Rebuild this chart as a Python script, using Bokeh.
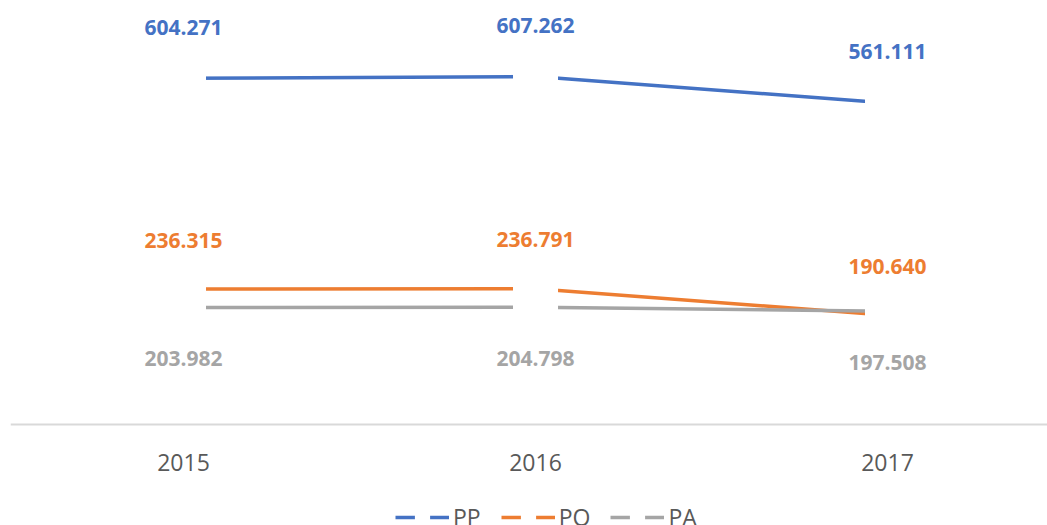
from bokeh.plotting import figure
from bokeh.models import Range1d, FixedTicker, Legend, LegendItem, ColumnDataSource
from bokeh.core.properties import value
from bokeh.embed import file_html
from bokeh.resources import INLINE

years = [2015, 2016, 2017]
year_labels = ["2015", "2016", "2017"]
series_names = ["PP", "PO", "PA"]
pp = [604.271, 607.262, 561.111]
po = [236.315, 236.791, 190.640]
pa = [203.982, 204.798, 197.508]
colors = ["#4472C4", "#ED7D31", "#A5A5A5"]
label_offsets = [-51, -49, 51]

p = figure(width=1047, height=525, output_backend="svg", toolbar_location=None,
           x_range=Range1d(2014.5085, 2017.4545), y_range=Range1d(-176.3, 740.0),
           min_border_left=10, min_border_right=0, min_border_top=0, min_border_bottom=0,
           y_axis_location=None, outline_line_color=None)
p.grid.visible = False

ax = p.xaxis[0]
ax.fixed_location = 0
ax.ticker = FixedTicker(ticks=years)
ax.major_label_overrides = {y: s for y, s in zip(years, year_labels)}
ax.major_tick_line_color = None
ax.minor_tick_line_color = None
ax.axis_line_color = "#D9D9D9"
ax.axis_line_width = 2
ax.major_label_standoff = 24
ax.major_label_text_font = "Open Sans"
ax.major_label_text_font_size = "23px"
ax.major_label_text_color = "#595959"

sources = []
lines = []
for vals, c in zip([pp, po, pa], colors):
    src = ColumnDataSource(dict(x=years, y=vals, lab=[f"{v:.3f}" for v in vals]))
    sources.append(src)
    lines.append(p.line("x", "y", source=src, line_color=c, line_width=3.5))

squares = []
for src in sources:
    squares.append(p.scatter("x", "y", source=src, marker="square", size=45,
                             fill_color="white", line_color=None))

for src, c, off in zip(sources, colors, label_offsets):
    p.text("x", "y", text="lab", source=src, text_color=c,
           text_font=value("Open Sans"), text_font_style="bold",
           text_font_size="21px", text_align="center", text_baseline="middle",
           y_offset=off)

items = [LegendItem(label=n, renderers=[l, s]) for n, l, s in zip(series_names, lines, squares)]
legend = Legend(items=items, orientation="horizontal", location=(385, -11),
                glyph_width=54, glyph_height=38, label_standoff=4, spacing=20,
                padding=0, margin=0, border_line_color=None, background_fill_alpha=0,
                label_text_font="Open Sans", label_text_font_size="23px",
                label_text_color="#595959")
p.add_layout(legend)

open("out.html", "w").write(file_html(p, INLINE))
